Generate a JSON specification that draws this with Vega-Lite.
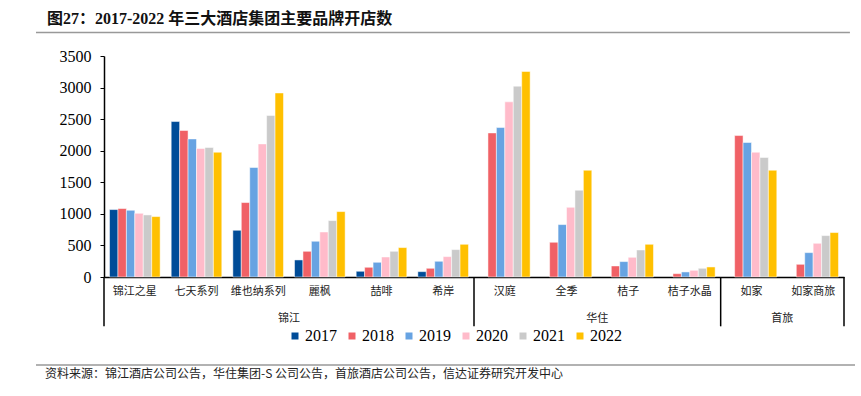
{
  "$schema": "https://vega.github.io/schema/vega-lite/v6.json",
  "width": 740,
  "height": 221,
  "autosize": {"type": "none"},
  "padding": {"left": 104, "top": 56, "right": 17, "bottom": 119},
  "background": "white",
  "config": {
    "view": {"stroke": null},
    "axisY": {
      "grid": false,
      "format": "d",
      "tickCount": 8,
      "labelOverlap": false,
      "labelFont": "Liberation Serif",
      "labelFontSize": 16,
      "labelColor": "#000000",
      "labelPadding": 9,
      "tickSize": 4,
      "tickColor": "#000000",
      "domainColor": "#000000",
      "domainWidth": 1.5,
      "title": null
    },
    "legend": {
      "labelFont": "Liberation Serif",
      "labelFontSize": 16,
      "labelColor": "#000000",
      "labelOffset": 2,
      "columnPadding": 7,
      "symbolType": "square",
      "symbolSize": 49,
      "symbolStrokeWidth": 0
    }
  },
  "title": {
    "text": "图27：2017-2022 年三大酒店集团主要品牌开店数",
    "font": "Liberation Serif, Noto Sans CJK SC",
    "fontSize": 16,
    "fontWeight": "bold",
    "color": "#111111",
    "anchor": "start",
    "frame": "group",
    "dx": -57,
    "offset": 5
  },
  "datasets": {
    "bars": [
      {"brand": "锦江之星", "group": "锦江", "year": "2017", "value": 1068},
      {"brand": "锦江之星", "group": "锦江", "year": "2018", "value": 1084},
      {"brand": "锦江之星", "group": "锦江", "year": "2019", "value": 1057},
      {"brand": "锦江之星", "group": "锦江", "year": "2020", "value": 1009},
      {"brand": "锦江之星", "group": "锦江", "year": "2021", "value": 983},
      {"brand": "锦江之星", "group": "锦江", "year": "2022", "value": 957},
      {"brand": "七天系列", "group": "锦江", "year": "2017", "value": 2462},
      {"brand": "七天系列", "group": "锦江", "year": "2018", "value": 2320},
      {"brand": "七天系列", "group": "锦江", "year": "2019", "value": 2187},
      {"brand": "七天系列", "group": "锦江", "year": "2020", "value": 2035},
      {"brand": "七天系列", "group": "锦江", "year": "2021", "value": 2051},
      {"brand": "七天系列", "group": "锦江", "year": "2022", "value": 1976},
      {"brand": "维也纳系列", "group": "锦江", "year": "2017", "value": 740},
      {"brand": "维也纳系列", "group": "锦江", "year": "2018", "value": 1179},
      {"brand": "维也纳系列", "group": "锦江", "year": "2019", "value": 1734},
      {"brand": "维也纳系列", "group": "锦江", "year": "2020", "value": 2108},
      {"brand": "维也纳系列", "group": "锦江", "year": "2021", "value": 2558},
      {"brand": "维也纳系列", "group": "锦江", "year": "2022", "value": 2915},
      {"brand": "麗枫", "group": "锦江", "year": "2017", "value": 270},
      {"brand": "麗枫", "group": "锦江", "year": "2018", "value": 407},
      {"brand": "麗枫", "group": "锦江", "year": "2019", "value": 566},
      {"brand": "麗枫", "group": "锦江", "year": "2020", "value": 713},
      {"brand": "麗枫", "group": "锦江", "year": "2021", "value": 893},
      {"brand": "麗枫", "group": "锦江", "year": "2022", "value": 1036},
      {"brand": "喆啡", "group": "锦江", "year": "2017", "value": 90},
      {"brand": "喆啡", "group": "锦江", "year": "2018", "value": 154},
      {"brand": "喆啡", "group": "锦江", "year": "2019", "value": 233},
      {"brand": "喆啡", "group": "锦江", "year": "2020", "value": 317},
      {"brand": "喆啡", "group": "锦江", "year": "2021", "value": 407},
      {"brand": "喆啡", "group": "锦江", "year": "2022", "value": 466},
      {"brand": "希岸", "group": "锦江", "year": "2017", "value": 85},
      {"brand": "希岸", "group": "锦江", "year": "2018", "value": 138},
      {"brand": "希岸", "group": "锦江", "year": "2019", "value": 249},
      {"brand": "希岸", "group": "锦江", "year": "2020", "value": 323},
      {"brand": "希岸", "group": "锦江", "year": "2021", "value": 434},
      {"brand": "希岸", "group": "锦江", "year": "2022", "value": 518},
      {"brand": "汉庭", "group": "华住", "year": "2018", "value": 2282},
      {"brand": "汉庭", "group": "华住", "year": "2019", "value": 2367},
      {"brand": "汉庭", "group": "华住", "year": "2020", "value": 2774},
      {"brand": "汉庭", "group": "华住", "year": "2021", "value": 3022},
      {"brand": "汉庭", "group": "华住", "year": "2022", "value": 3255},
      {"brand": "全季", "group": "华住", "year": "2018", "value": 550},
      {"brand": "全季", "group": "华住", "year": "2019", "value": 830},
      {"brand": "全季", "group": "华住", "year": "2020", "value": 1104},
      {"brand": "全季", "group": "华住", "year": "2021", "value": 1374},
      {"brand": "全季", "group": "华住", "year": "2022", "value": 1691},
      {"brand": "桔子", "group": "华住", "year": "2018", "value": 175},
      {"brand": "桔子", "group": "华住", "year": "2019", "value": 244},
      {"brand": "桔子", "group": "华住", "year": "2020", "value": 312},
      {"brand": "桔子", "group": "华住", "year": "2021", "value": 428},
      {"brand": "桔子", "group": "华住", "year": "2022", "value": 518},
      {"brand": "桔子水晶", "group": "华住", "year": "2018", "value": 53},
      {"brand": "桔子水晶", "group": "华住", "year": "2019", "value": 80},
      {"brand": "桔子水晶", "group": "华住", "year": "2020", "value": 106},
      {"brand": "桔子水晶", "group": "华住", "year": "2021", "value": 138},
      {"brand": "桔子水晶", "group": "华住", "year": "2022", "value": 159},
      {"brand": "如家", "group": "首旅", "year": "2018", "value": 2240},
      {"brand": "如家", "group": "首旅", "year": "2019", "value": 2130},
      {"brand": "如家", "group": "首旅", "year": "2020", "value": 1976},
      {"brand": "如家", "group": "首旅", "year": "2021", "value": 1892},
      {"brand": "如家", "group": "首旅", "year": "2022", "value": 1691},
      {"brand": "如家商旅", "group": "首旅", "year": "2018", "value": 201},
      {"brand": "如家商旅", "group": "首旅", "year": "2019", "value": 386},
      {"brand": "如家商旅", "group": "首旅", "year": "2020", "value": 534},
      {"brand": "如家商旅", "group": "首旅", "year": "2021", "value": 656},
      {"brand": "如家商旅", "group": "首旅", "year": "2022", "value": 704}
    ],
    "groups": [
      {"group": "锦江", "brand": "麗枫"},
      {"group": "华住", "brand": "桔子"},
      {"group": "首旅", "brand": "如家商旅"}
    ],
    "seps": [
      {"brand": "锦江之星"},
      {"brand": "汉庭"},
      {"brand": "如家"}
    ],
    "lastsep": [
      {"brand": "如家商旅"}
    ],
    "source": [
      {"label": "资料来源：锦江酒店公司公告，华住集团-S 公司公告，首旅酒店公司公告，信达证券研究开发中心"}
    ]
  },
  "resolve": {"scale": {"x": "independent"}, "axis": {"x": "independent"}},
  "layer": [
    {
      "layer": [
        {
          "data": {"name": "bars"},
          "mark": {"type": "bar", "stroke": "white", "strokeWidth": 0.5},
          "encoding": {
            "x": {
              "field": "brand",
              "type": "nominal",
              "scale": {
                "domain": ["锦江之星", "七天系列", "维也纳系列", "麗枫", "喆啡", "希岸", "汉庭", "全季", "桔子", "桔子水晶", "如家", "如家商旅"],
                "paddingInner": 0,
                "paddingOuter": 0
              },
              "axis": {
                "title": null,
                "labelAngle": 0,
                "labelFont": "Noto Sans CJK SC",
                "labelFontSize": 11,
                "labelColor": "#222222",
                "labelPadding": 8,
                "ticks": false,
                "domainColor": "#000000",
                "domainWidth": 1.5
              }
            },
            "xOffset": {
              "field": "year",
              "type": "nominal",
              "scale": {"domain": ["2017", "2018", "2019", "2020", "2021", "2022"], "paddingInner": 0, "paddingOuter": 0.655}
            },
            "y": {
              "field": "value",
              "type": "quantitative",
              "scale": {"domain": [0, 3500], "nice": false},
              "title": null
            },
            "color": {
              "field": "year",
              "type": "nominal",
              "scale": {
                "domain": ["2017", "2018", "2019", "2020", "2021", "2022"],
                "range": ["#004C98", "#F06166", "#67A3E2", "#FFBBCA", "#CACACA", "#FFC000"]
              },
              "legend": {
                "title": null,
                "orient": "none",
                "direction": "horizontal",
                "legendX": 183,
                "legendY": 272
              }
            }
          }
        },
        {
          "data": {"name": "seps"},
          "mark": {"type": "rule", "color": "#000000", "strokeWidth": 1.5, "clip": false},
          "encoding": {
            "x": {"field": "brand", "type": "nominal", "bandPosition": 0},
            "y": {"datum": 0, "type": "quantitative", "scale": {"domain": [0, 3500], "nice": false}, "title": null},
            "y2": {"datum": -781}
          }
        },
        {
          "data": {"name": "lastsep"},
          "mark": {"type": "rule", "color": "#000000", "strokeWidth": 1.5, "clip": false},
          "encoding": {
            "x": {"field": "brand", "type": "nominal", "bandPosition": 1},
            "y": {"datum": 0, "type": "quantitative", "scale": {"domain": [0, 3500], "nice": false}, "title": null},
            "y2": {"datum": -781}
          }
        },
        {
          "data": {"name": "groups"},
          "mark": {"type": "text", "font": "Noto Sans CJK SC", "fontSize": 11, "color": "#222222", "align": "center", "baseline": "middle", "clip": false},
          "encoding": {
            "x": {"field": "brand", "type": "nominal", "bandPosition": 0},
            "y": {"datum": -659, "type": "quantitative", "scale": {"domain": [0, 3500], "nice": false}, "title": null},
            "text": {"field": "group"}
          }
        }
      ]
    },
    {
      "layer": [
        {
          "data": {"values": [{}]},
          "mark": {"type": "rule", "color": "#999999", "strokeWidth": 1.5, "clip": false},
          "encoding": {
            "x": {"datum": -0.0919, "type": "quantitative", "scale": {"domain": [0, 1], "nice": false}, "axis": null},
            "x2": {"datum": 1.008},
            "y": {"datum": 3871, "type": "quantitative", "scale": {"domain": [0, 3500], "nice": false}, "title": null}
          }
        },
        {
          "data": {"values": [{}]},
          "mark": {"type": "rule", "color": "#999999", "strokeWidth": 1.5, "clip": false},
          "encoding": {
            "x": {"datum": -0.0919, "type": "quantitative", "scale": {"domain": [0, 1], "nice": false}, "axis": null},
            "x2": {"datum": 1.0149},
            "y": {"datum": -1394, "type": "quantitative", "scale": {"domain": [0, 3500], "nice": false}, "title": null}
          }
        },
        {
          "data": {"name": "source"},
          "mark": {"type": "text", "font": "Noto Sans CJK SC", "fontSize": 12, "color": "#222222", "align": "left", "baseline": "middle", "clip": false},
          "encoding": {
            "x": {"datum": -0.0797, "type": "quantitative", "scale": {"domain": [0, 1], "nice": false}, "axis": null},
            "y": {"datum": -1541, "type": "quantitative", "scale": {"domain": [0, 3500], "nice": false}, "title": null},
            "text": {"field": "label"}
          }
        }
      ]
    }
  ]
}
